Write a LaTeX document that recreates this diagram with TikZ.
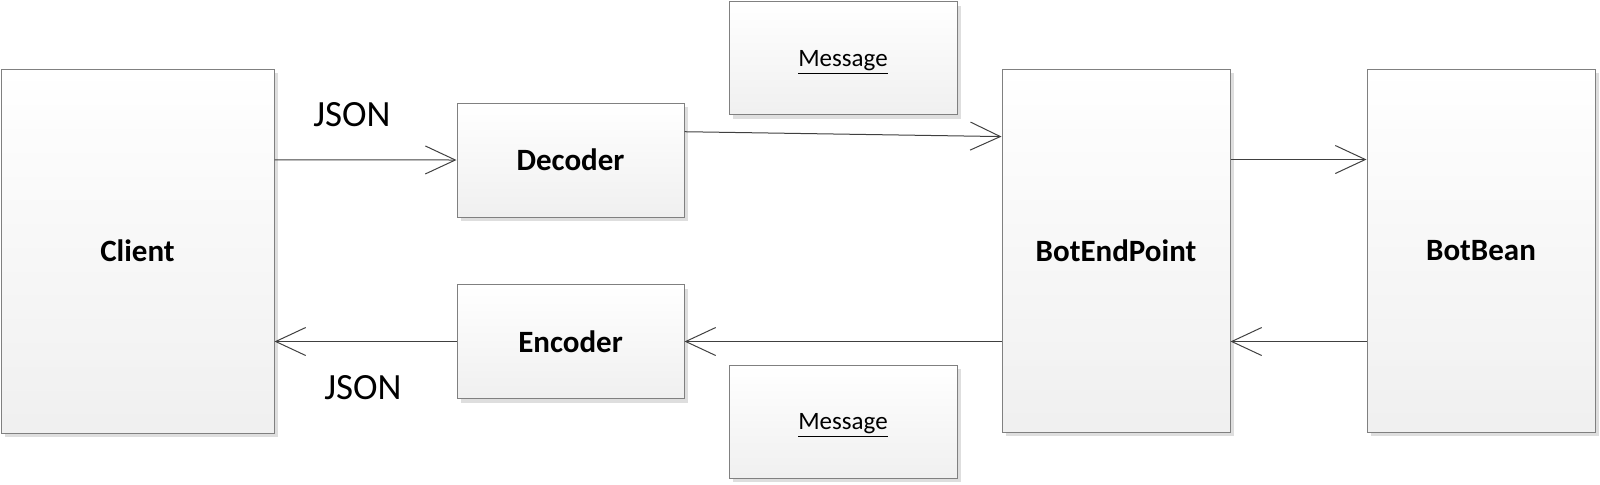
\documentclass[tikz,border=0pt]{standalone}
\usepackage{fontspec}
\setmainfont{Carlito}
\usetikzlibrary{calc,positioning,shadows,arrows.meta}

\begin{document}
\begin{tikzpicture}[
    % one unit is one pixel of the reference, y runs downwards
    x=0.5pt, y=-0.5pt,
    % nodes
    base/.style={rectangle, inner sep=0pt, draw=black!50, line width=0.5pt,
                 top color=white, bottom color=black!6,
                 drop shadow={shadow xshift=2pt, shadow yshift=-2pt, fill=black!13, opacity=1}},
    comp/.style={base, font=\bfseries\fontsize{15.5}{18}\selectfont},
    tall/.style={comp, minimum width=114pt, minimum height=181.5pt},
    codec/.style={comp, minimum width=113.5pt, minimum height=57pt},
    msg/.style={base, minimum width=114pt, minimum height=56.5pt,
                text height=8pt, text depth=0pt,
                font=\fontsize{12.5}{15}\selectfont},
    lbl/.style={font=\fontsize{18.5}{22}\selectfont},
    % arrows
    flow/.style={-{Straight Barb[length=15pt, width=14pt]}, draw=black!75, line width=0.5pt}
  ]

  \useasboundingbox (0,0) rectangle (1600,484);

  \node (client)   [comp, minimum width=136.5pt, minimum height=182pt] at (137.5,251) {Client};

  \node (decoder)  [codec] at (570.5,160)   {Decoder};
  \node (encoder)  [codec] at (570.5,341.5) {Encoder};

  \node (msgin)    [msg]   at (843,58)      {\underline{Message}};
  \node (msgout)   [msg]   at (843,421.5)   {\underline{Message}};

  \node (endpoint) [tall]  at (1116,250.5)  {BotEndPoint};
  \node (bean)     [tall]  at (1481,250.5)  {BotBean};

  \node (jsonin)   [lbl]   at (352,115)     {JSON};
  \node (jsonout)  [lbl]   at (363,388)     {JSON};

  \coordinate (decout) at ($(decoder.north east)!0.254!(decoder.south east)$);
  \coordinate (epin)   at ($(endpoint.north west)!0.187!(endpoint.south west)$);

  \draw[flow] ($(client.north east)!0.25!(client.south east)$) -- (decoder.west);
  \draw[flow] (decout) -- (epin);
  \draw[flow] ($(endpoint.north east)!0.25!(endpoint.south east)$)
              -- ($(bean.north west)!0.25!(bean.south west)$);
  \draw[flow] ($(bean.north west)!0.75!(bean.south west)$)
              -- ($(endpoint.north east)!0.75!(endpoint.south east)$);
  \draw[flow] (endpoint.west |- encoder.east) -- (encoder.east);
  \draw[flow] (encoder.west) -- (client.east |- encoder.west);
\end{tikzpicture}
\end{document}
